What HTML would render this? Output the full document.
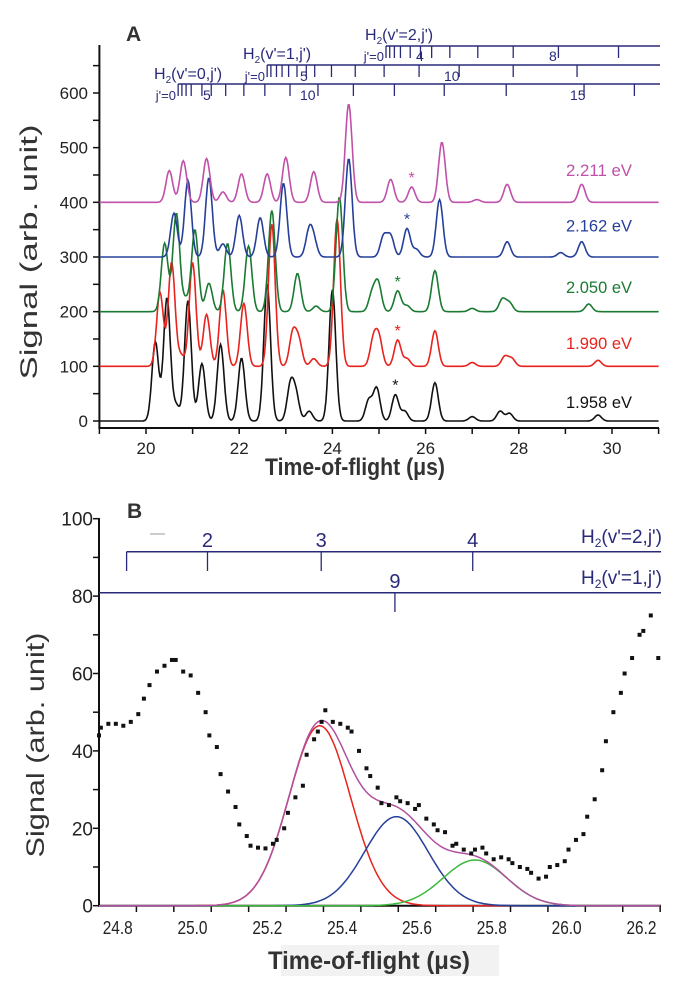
<!DOCTYPE html>
<html><head><meta charset="utf-8"><style>
html,body{margin:0;padding:0;background:#fff}
svg{display:block}
text{font-family:"Liberation Sans Narrow","Liberation Sans",sans-serif}
</style></head><body>
<svg id="fig" width="700" height="984" viewBox="0 0 700 984" xmlns="http://www.w3.org/2000/svg">
<g id="pa"></g>
<g id="pb"></g>
</svg>
<script>
// ---------- Panel A data ----------
const aTicks = [20,22,24,26,28,30];
const aYTicks = [0,100,200,300,400,500,600];
const aLabels = ["1.958 eV","1.990 eV","2.050 eV","2.162 eV","2.211 eV"];
const aColors = ["#111111","#e8221c","#1a7a32","#26409a","#c050a8"];
const aOffsets = [0,100,200,300,400];
const aLabelLift = [35,43,45,58,59];
const blackCenters = [20.2,20.45,20.65,20.9,21.2,21.6,22.05,22.6,23.1,23.22,23.5,24.0,24.78,24.95,25.35,25.55,26.2,27.0,27.6,27.8,29.7];
const blackHeights = [145,225,28,220,105,140,115,250,65,45,18,240,38,60,48,18,70,8,18,14,11];
const redCenters = [20.3,20.55,20.75,21.0,21.3,21.65,22.1,22.7,23.15,23.28,23.6,24.1,24.88,25.0,25.4,25.6,26.2,27.0,27.7,27.85,29.7];
const redHeights = [135,190,20,190,95,140,115,260,60,45,14,270,48,50,48,14,65,7,18,14,11];
const greenCenters = [20.4,20.65,20.85,21.05,21.35,21.75,22.2,22.7,23.25,23.65,24.15,24.85,24.98,25.4,25.6,26.2,27.0,27.65,27.8,29.5];
const greenHeights = [125,180,22,150,52,125,120,185,70,10,210,32,52,38,11,75,6,23,16,14];
const blueCenters = [20.6,20.9,21.35,21.65,22.0,22.45,22.95,23.5,23.6,24.35,25.1,25.25,25.6,25.8,26.3,27.75,28.9,29.35];
const blueHeights = [80,140,145,24,76,72,135,46,28,180,38,38,52,14,105,28,8,28];
const magCenters = [20.5,20.8,21.3,21.65,22.05,22.6,23.0,23.6,24.35,25.25,25.7,26.35,27.1,27.75,29.35];
const magHeights = [58,76,80,19,52,52,82,56,180,42,28,110,5,33,33];
const aCenters = [blackCenters,redCenters,greenCenters,blueCenters,magCenters];
const aHeights = [blackHeights,redHeights,greenHeights,blueHeights,magHeights];
const starT = [25.35,25.4,25.4,25.6,25.7];
const v0Ticks = [20.69,20.77,20.86,20.97,21.20,21.40,21.71,22.10,22.55,23.09,23.69,24.45,25.33,26.40,27.73,29.40,30.48];
const v1Ticks = [22.60,22.68,22.80,22.92,23.06,23.24,23.44,23.62,23.98,24.49,25.11,25.86,26.72,27.88,29.25];
const v2Ticks = [25.15,25.23,25.33,25.46,25.67,25.89,26.13,26.52,27.12,27.88,28.85,30.14];

// ---------- Panel B data ----------
const bXTicks = [24.8,25.0,25.2,25.4,25.6,25.8,26.0,26.2];
const bYTicks = [0,20,40,60,80,100];
const dotT = [24.75,24.755,24.775,24.795,24.815,24.835,24.855,24.87,24.885,24.905,24.925,24.945,24.955,24.975,24.995,25.015,25.035,25.045,25.065,25.075,25.095,25.115,25.125,25.145,25.155,25.175,25.195,25.215,25.225,25.245,25.255,25.275,25.295,25.305,25.325,25.335,25.345,25.355,25.375,25.395,25.415,25.425,25.445,25.465,25.475,25.495,25.505,25.525,25.545,25.555,25.575,25.595,25.605,25.625,25.645,25.655,25.675,25.695,25.705,25.725,25.745,25.755,25.775,25.785,25.805,25.825,25.845,25.855,25.875,25.895,25.905,25.925,25.945,25.955,25.975,25.995,26.005,26.025,26.045,26.055,26.075,26.095,26.105,26.125,26.145,26.155,26.175,26.195,26.205,26.225,26.245];
const dotV = [44,46,47,47,46.5,47.5,49.5,53.5,57,60.5,62,63.5,63.5,60.5,59.5,55,50,44,41,34,29.5,25.5,21,18,15.5,15,14.8,16,17,20,24,28,31,39,43,45,47.5,50.5,47.5,47,46,45,40,35.5,33.5,30.5,26.5,26,28,27,26.5,25,26,22.5,21,19.5,19,15.5,16,14.5,13.5,14.5,15,13.5,12,12.5,12,11,10,9.5,8.5,7,7.5,10,10.5,11.5,14.5,17,18.5,23,27.5,35,42.5,50,55,60,64,70,71,75,64];
const fitCenters = [25.34,25.545,25.755];
const fitAmps = [46.5,23,11.8];
const fitSigmas = [0.082,0.085,0.085];
const fitColors = ["#e8221c","#26409a","#3cb83c"];
const bAnnV2 = [25.04,25.344,25.749];
const bAnnV2Lab = ["2","3","4"];
const bAnnV1 = [25.541];
const bAnnV1Lab = ["9"];

const NS="http://www.w3.org/2000/svg";
function mk(tag, parent, attrs){const e=document.createElementNS(NS,tag);for(const k in attrs)e.setAttribute(k,attrs[k]);parent.appendChild(e);return e;}

// ---------- Panel A ----------
const pa=document.getElementById('pa');
const ax=t=>99.4+(t-19)*46.6;
const ay=v=>421-v*0.5467;
const AN="#2a2a7a";
function gsum(cs,hs,t,s){let y=0;for(let i=0;i<cs.length;i++){y+=hs[i]*Math.exp(-0.5*((t-cs[i])/s)**2);}return y;}

let ln=mk('line',pa,{x1:99.4,y1:45,x2:99.4,y2:428,stroke:'#111','stroke-width':2});


ln=mk('line',pa,{x1:98.4,y1:428,x2:659,y2:428,stroke:'#111','stroke-width':2});


for(let v=0;v<=650;v+=50){
  const t=mk('line',pa,{x1:93,y1:ay(v),x2:99.4,y2:ay(v),stroke:'#111','stroke-width':1.5});
  
  
}
aYTicks.forEach(v=>{
  const t=mk('text',pa,{x:88,y:ay(v)+6,'text-anchor':'end','font-size':17,fill:'#222'});t.textContent=v;
  
  
});
for(let tt=19;tt<=31;tt+=1){
  const t=mk('line',pa,{x1:ax(tt),y1:428,x2:ax(tt),y2:434,stroke:'#111','stroke-width':1.5});
  
  
}
aTicks.forEach(v=>{
  const t=mk('text',pa,{x:ax(v),y:454,'text-anchor':'middle','font-size':17,fill:'#222'});t.textContent=v;
  
  
});
aCenters.forEach((cs,i)=>{
  let d='';
  for(let t=19;t<=31.001;t+=0.02){const v=aOffsets[i]+gsum(cs,aHeights[i],t,0.072);d+=(d?'L':'M')+ax(t).toFixed(1)+' '+ay(v).toFixed(1);}
  const p=mk('path',pa,{d:d,fill:'none',stroke:aColors[i],'stroke-width':1.6});
  
  
  const lb=mk('text',pa,{x:632,y:ay(aOffsets[i]+aLabelLift[i])+6,'text-anchor':'end','font-size':17,fill:aColors[i],textLength:66,lengthAdjust:'spacingAndGlyphs'});lb.textContent=aLabels[i];
  
  
  const pk=gsum(cs,aHeights[i],starT[i],0.072)+aOffsets[i];
  const st=mk('text',pa,{x:ax(starT[i]),y:ay(pk)-4,'text-anchor':'middle','font-size':16,fill:aColors[i]});st.textContent='*';
  
  
});
function comb(ticks,ly,name){
  const g=mk('g',pa,{});
  
  
  mk('line',g,{x1:ax(ticks[0]),y1:ly,x2:660,y2:ly,stroke:AN,'stroke-width':1.5});
  ticks.forEach(t=>mk('line',g,{x1:ax(t),y1:ly,x2:ax(t),y2:ly+12,stroke:AN,'stroke-width':1.3}));
  return g;
}
const g0=comb(v0Ticks,84,'v0-comb'),g1=comb(v1Ticks,65,'v1-comb'),g2=comb(v2Ticks,46,'v2-comb');
function atext(g,x,y,s,anchor,size){const t=mk('text',g,{x:x,y:y,'text-anchor':anchor||'start','font-size':size||14,fill:AN});t.innerHTML=s;return t;}
atext(g0,176,100,"j'=0",'end',13);atext(g0,203,100,"5");atext(g0,300,100,"10");atext(g0,570,100,"15");
atext(g0,154,79,"H<tspan font-size='10' dy='4'>2</tspan><tspan dy='-4'>(v'=0,j')</tspan>",'start',16);
atext(g1,265,81,"j'=0",'end',13);atext(g1,300,81,"5");atext(g1,444,81,"10");
atext(g1,243,59,"H<tspan font-size='10' dy='4'>2</tspan><tspan dy='-4'>(v'=1,j')</tspan>",'start',16);
atext(g2,384,61,"j'=0",'end',13);atext(g2,416,61,"4");atext(g2,549,61,"8");
atext(g2,365,40,"H<tspan font-size='10' dy='4'>2</tspan><tspan dy='-4'>(v'=2,j')</tspan>",'start',16);
let tx=mk('text',pa,{x:126,y:41,'font-size':21,'font-weight':'bold',fill:'#333'});tx.textContent='A';


tx=mk('text',pa,{x:265,y:475,'font-size':24,'font-weight':'bold',fill:'#333',textLength:180,lengthAdjust:'spacingAndGlyphs'});tx.textContent='Time-of-flight (\u03bcs)';


tx=mk('text',pa,{x:0,y:0,'text-anchor':'middle','font-size':24,fill:'#333',transform:'translate(37,252) rotate(-90)',textLength:255,lengthAdjust:'spacingAndGlyphs'});tx.textContent='Signal (arb. unit)';



// ---------- Panel B ----------
const pb=document.getElementById('pb');
const bx=t=>99+(t-24.75)*374.1;
const by=v=>905.7-v*3.87;
tx=mk('rect',pb,{x:281,y:945,width:218,height:31,fill:'#f2f2f2'});


ln=mk('line',pb,{x1:99,y1:518,x2:99,y2:906,stroke:'#111','stroke-width':2});


ln=mk('line',pb,{x1:98,y1:905.7,x2:661,y2:905.7,stroke:'#111','stroke-width':2});


for(let v=0;v<=100;v+=10){
  const t=mk('line',pb,{x1:93,y1:by(v),x2:99,y2:by(v),stroke:'#111','stroke-width':1.5});
  
  
}
bYTicks.forEach(v=>{
  const t=mk('text',pb,{x:93,y:by(v)+7,'text-anchor':'end','font-size':19,fill:'#222'});t.textContent=v;
  
  
});
for(let i=0;i<=15;i++){const tt=24.75+i*0.1;
  if(tt>24.79){const t=mk('line',pb,{x1:bx(tt),y1:905.7,x2:bx(tt),y2:912,stroke:'#111','stroke-width':1.5});
  
  }
}
bXTicks.forEach(v=>{
  const t=mk('text',pb,{x:bx(v),y:934,'text-anchor':'middle','font-size':18,fill:'#222',textLength:30,lengthAdjust:'spacingAndGlyphs'});t.textContent=v.toFixed(1);
  
  
});
const gb=mk('g',pb,{});


mk('line',gb,{x1:126.6,y1:551.7,x2:661,y2:551.7,stroke:AN,'stroke-width':1.5});
mk('line',gb,{x1:126.6,y1:551.7,x2:126.6,y2:571,stroke:AN,'stroke-width':1.3});
bAnnV2.forEach((t,i)=>{mk('line',gb,{x1:bx(t),y1:551.7,x2:bx(t),y2:571,stroke:AN,'stroke-width':1.3});
  const l=mk('text',gb,{x:bx(t),y:547,'text-anchor':'middle','font-size':20,fill:AN});l.textContent=bAnnV2Lab[i];});
mk('line',gb,{x1:99,y1:592.7,x2:661,y2:592.7,stroke:AN,'stroke-width':1.5});
bAnnV1.forEach((t,i)=>{mk('line',gb,{x1:bx(t),y1:592.7,x2:bx(t),y2:612,stroke:AN,'stroke-width':1.3});
  const l=mk('text',gb,{x:bx(t),y:588,'text-anchor':'middle','font-size':20,fill:AN});l.textContent=bAnnV1Lab[i];});
mk('line',gb,{x1:150,y1:534,x2:165,y2:534,stroke:'#bbb','stroke-width':1.5});
atext(gb,662,543,"H<tspan font-size='12' dy='4'>2</tspan><tspan dy='-4'>(v'=2,j')</tspan>",'end',19);
atext(gb,662,584,"H<tspan font-size='12' dy='4'>2</tspan><tspan dy='-4'>(v'=1,j')</tspan>",'end',19);
function gauss(t,i){return fitAmps[i]*Math.exp(-0.5*((t-fitCenters[i])/fitSigmas[i])**2);}
fitCenters.forEach((c,i)=>{
  let d='';for(let t=24.75;t<=26.2501;t+=0.005){d+=(d?'L':'M')+bx(t).toFixed(1)+' '+by(gauss(t,i)).toFixed(1);}
  const p=mk('path',pb,{d:d,fill:'none',stroke:fitColors[i],'stroke-width':1.5});
  
  
});
let ds='';for(let t=24.75;t<=26.2501;t+=0.005){let s=0;for(let i=0;i<fitCenters.length;i++)s+=gauss(t,i);ds+=(ds?'L':'M')+bx(t).toFixed(1)+' '+by(s).toFixed(1);}
let sp=mk('path',pb,{d:ds,fill:'none',stroke:'#b050a0','stroke-width':1.5});


dotT.forEach((t,i)=>{
  const r=mk('rect',pb,{x:bx(t)-2,y:by(dotV[i])-2,width:4,height:4,fill:'#111'});
  
  
});
tx=mk('text',pb,{x:127,y:518,'font-size':21,'font-weight':'bold',fill:'#333'});tx.textContent='B';


tx=mk('text',pb,{x:268,y:969,'font-size':25,'font-weight':'bold',fill:'#333',textLength:202,lengthAdjust:'spacingAndGlyphs'});tx.textContent='Time-of-flight (\u03bcs)';


tx=mk('text',pb,{x:0,y:0,'text-anchor':'middle','font-size':25,fill:'#333',transform:'translate(44,745) rotate(-90)',textLength:225,lengthAdjust:'spacingAndGlyphs'});tx.textContent='Signal (arb. unit)';


</script>
</body></html>
